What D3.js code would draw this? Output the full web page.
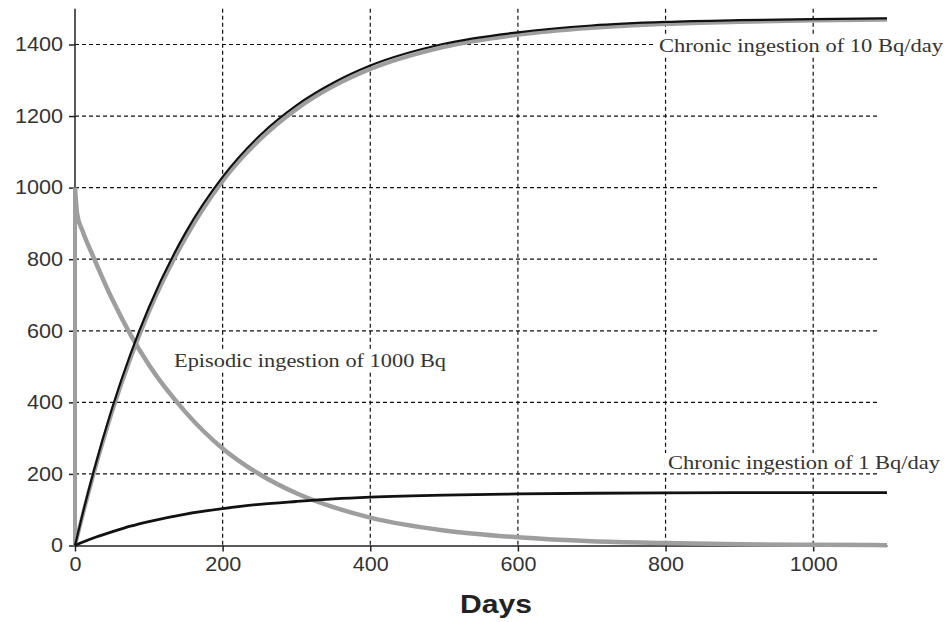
<!DOCTYPE html>
<html><head><meta charset="utf-8">
<script src="https://cdn.jsdelivr.net/npm/d3@7"></script>
<style>body{margin:0;background:#fff}svg{display:block}</style>
</head><body><svg id="c" width="948" height="622"></svg>
<script>
const days = [0, 10, 25, 50, 75, 100, 150, 200, 250, 300, 350, 400, 500, 600, 700, 800, 900, 1000, 1100];
const chronic10 = [0, 86, 205, 382, 534, 665, 875, 1030, 1145, 1230, 1293, 1341, 1402, 1434, 1453, 1463, 1468, 1471, 1473];
const chronic10Gray = [0, 82, 198, 372, 522, 652, 860, 1018, 1133, 1219, 1283, 1331, 1393, 1427, 1446, 1457, 1463, 1467, 1469];
const chronic1 = [0, 9, 21, 38, 54, 67, 88, 103, 115, 123, 130, 135, 141, 144, 146, 147, 147.5, 148, 148];
const episodicDays = [0, 0, 3, 10, 25, 50, 75, 100, 150, 200, 250, 300, 350, 400, 500, 600, 700, 800, 900, 1000, 1100];
const episodic = [0, 1000, 925, 880, 806, 690, 590, 505, 372, 271, 199, 146, 107, 78, 42, 23, 12, 7, 3.5, 2, 1];
const xTicks = [0, 200, 400, 600, 800, 1000];
const yTicks = [0, 200, 400, 600, 800, 1000, 1200, 1400];
const labels = [
  {text: "Chronic ingestion of 10 Bq/day", x: 659, y: 52, w: 284},
  {text: "Episodic ingestion of 1000 Bq", x: 174, y: 367, w: 272},
  {text: "Chronic ingestion of 1 Bq/day", x: 668, y: 469, w: 272}
];

const svg = d3.select("#c");
const x = d3.scaleLinear().domain([0, 1100]).range([75, 887]);
const y = d3.scaleLinear().domain([0, 1500]).range([545.5, 8.7]);

// grid
const g = svg.append("g");
g.selectAll(".hg").data(yTicks.filter(d => d > 0)).join("line")
  .attr("x1", x(0)).attr("x2", 880).attr("y1", d => y(d)).attr("y2", d => y(d))
  .attr("stroke", "#111").attr("stroke-width", 1.2).attr("stroke-dasharray", "4,3");
g.selectAll(".vg").data(xTicks.filter(d => d > 0)).join("line")
  .attr("x1", d => x(d)).attr("x2", d => x(d)).attr("y1", y(1500)).attr("y2", y(0))
  .attr("stroke", "#111").attr("stroke-width", 1.2).attr("stroke-dasharray", "4,3");

// axes
const fmt = d3.format("d");
const xAxis = d3.axisBottom(x).tickValues(xTicks).tickFormat(fmt).tickSize(6).tickSizeOuter(0).tickPadding(6);
const yAxis = d3.axisLeft(y).tickValues(yTicks).tickFormat(fmt).tickSize(6).tickSizeOuter(0).tickPadding(6);
const xa = svg.append("g").attr("transform", `translate(0,${y(0)})`).call(xAxis);
const ya = svg.append("g").attr("transform", `translate(${x(0)},0)`).call(yAxis);
[xa, ya].forEach(a => {
  a.select(".domain").attr("stroke", "#222").attr("stroke-width", 1.5);
  a.selectAll(".tick line").attr("stroke", "#222").attr("stroke-width", 1.5);
  a.selectAll("text").attr("font-family", "Liberation Sans, Arial, sans-serif")
    .attr("font-size", 19.5).attr("fill", "#333")
    .attr("textLength", d => fmt(d).length * 12).attr("lengthAdjust", "spacingAndGlyphs");
});
ya.select(".domain").attr("d", `M0,${y(0)}V${y(1500)}`);

svg.append("text").attr("x", 496).attr("y", 613).attr("text-anchor", "middle")
  .attr("font-family", "Liberation Sans, Arial, sans-serif").attr("font-weight", "bold")
  .attr("font-size", 26).attr("fill", "#222").attr("textLength", 72)
  .attr("lengthAdjust", "spacingAndGlyphs").text("Days");

const line = d3.line().x(d => x(d[0])).y(d => y(d[1])).curve(d3.curveMonotoneX);
const lineL = d3.line().x(d => x(d[0])).y(d => y(d[1])).curve(d3.curveLinear);

// episodic (gray, thick)
svg.append("path").attr("d", lineL(episodicDays.slice(0, 2).map((d, i) => [d, episodic[i]])))
  .attr("fill", "none").attr("stroke", "#9e9e9e").attr("stroke-width", 4);
svg.append("path").attr("d", line(episodicDays.slice(1).map((d, i) => [d, episodic[i + 1]])))
  .attr("fill", "none").attr("stroke", "#9e9e9e").attr("stroke-width", 4.5);

// chronic 10: gray under black
svg.append("path").attr("d", line(days.map((d, i) => [d, chronic10Gray[i]])))
  .attr("fill", "none").attr("stroke", "#9e9e9e").attr("stroke-width", 4);
svg.append("path").attr("d", line(days.map((d, i) => [d, chronic10[i]])))
  .attr("fill", "none").attr("stroke", "#111").attr("stroke-width", 2.2);

// chronic 1
svg.append("path").attr("d", line(days.map((d, i) => [d, chronic1[i]])))
  .attr("fill", "none").attr("stroke", "#111").attr("stroke-width", 2.8);

// labels with white backgrounds
labels.forEach(l => {
  const grp = svg.append("g");
  const t = grp.append("text").attr("x", l.x).attr("y", l.y)
    .attr("font-family", "Liberation Serif, Times New Roman, serif").attr("font-size", 18)
    .attr("fill", "#333").attr("textLength", l.w).attr("lengthAdjust", "spacingAndGlyphs")
    .text(l.text);
  const bb = t.node().getBBox();
  grp.insert("rect", "text").attr("x", bb.x - 3).attr("y", bb.y).attr("width", bb.width + 6)
    .attr("height", bb.height).attr("fill", "#fff");
});
</script></body></html>
